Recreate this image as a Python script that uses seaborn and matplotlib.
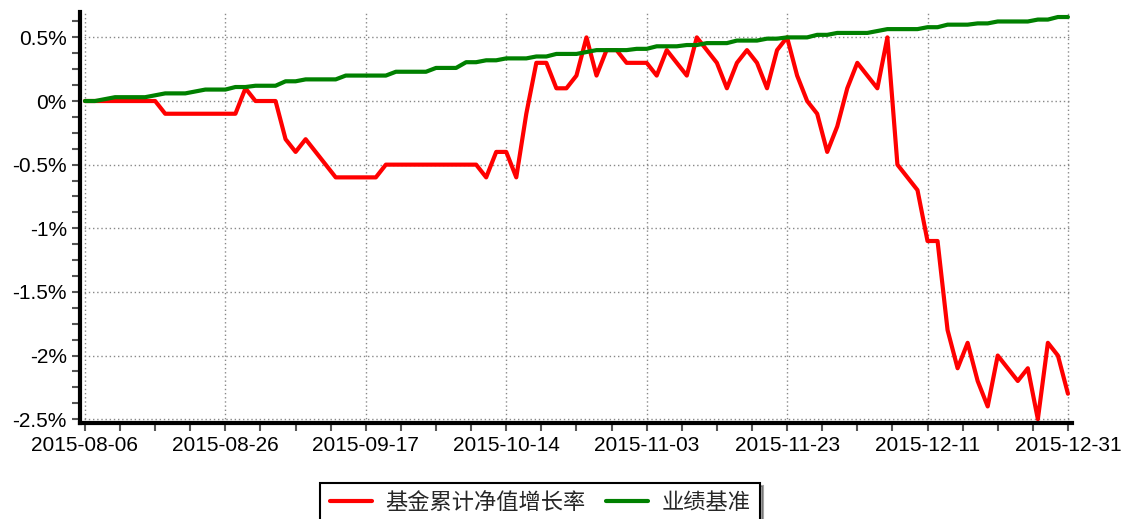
import numpy as np
import pandas as pd
import matplotlib
matplotlib.use("Agg")
import matplotlib.pyplot as plt
from matplotlib.ticker import MultipleLocator, FuncFormatter
import seaborn as sns

# trading days (China, 2015-08-06 .. 2015-12-31, holidays removed)
holidays = ["2015-09-03", "2015-09-04", "2015-10-01", "2015-10-02",
            "2015-10-05", "2015-10-06", "2015-10-07"]
dates = pd.bdate_range("2015-08-06", "2015-12-31")
dates = dates[~dates.isin(pd.to_datetime(holidays))]
date_labels = [d.strftime("%Y-%m-%d") for d in dates]

# fund cumulative return (%)
fund = [0, 0, 0, 0, 0, 0, 0, 0,
        -0.1, -0.1, -0.1, -0.1, -0.1, -0.1, -0.1, -0.1,
        0.1, 0, 0, 0,
        -0.3, -0.4, -0.3, -0.4, -0.5,
        -0.6, -0.6, -0.6, -0.6, -0.6,
        -0.5, -0.5, -0.5, -0.5, -0.5, -0.5, -0.5, -0.5, -0.5, -0.5,
        -0.6, -0.4, -0.4, -0.6, -0.1, 0.3, 0.3, 0.1, 0.1, 0.2,
        0.5, 0.2, 0.4, 0.4, 0.3, 0.3, 0.3, 0.2, 0.4, 0.3,
        0.2, 0.5, 0.4, 0.3, 0.1, 0.3, 0.4, 0.3, 0.1, 0.4,
        0.5, 0.2, 0.0, -0.1, -0.4, -0.2, 0.1, 0.3, 0.2, 0.1,
        0.5, -0.5, -0.6, -0.7, -1.1, -1.1, -1.8, -2.1, -1.9, -2.2,
        -2.4, -2.0, -2.1, -2.2, -2.1, -2.5, -1.9, -2.0, -2.3]

# benchmark return (%)
bench = [0, 0, 0.015, 0.03, 0.03, 0.03, 0.03, 0.045, 0.06, 0.06,
         0.06, 0.075, 0.09, 0.09, 0.09, 0.11, 0.11, 0.12, 0.12, 0.12,
         0.155, 0.155, 0.17, 0.17, 0.17, 0.17, 0.2, 0.2, 0.2, 0.2,
         0.2, 0.23, 0.23, 0.23, 0.23, 0.26, 0.26, 0.26, 0.305, 0.305,
         0.32, 0.32, 0.335, 0.335, 0.335, 0.35, 0.35, 0.37, 0.37, 0.37,
         0.385, 0.40, 0.40, 0.40, 0.40, 0.41, 0.41, 0.43, 0.43, 0.43,
         0.44, 0.44, 0.455, 0.455, 0.455, 0.475, 0.475, 0.475, 0.49, 0.49,
         0.50, 0.50, 0.50, 0.52, 0.52, 0.535, 0.535, 0.535, 0.535, 0.55,
         0.565, 0.565, 0.565, 0.565, 0.58, 0.58, 0.60, 0.60, 0.60, 0.61,
         0.61, 0.625, 0.625, 0.625, 0.625, 0.64, 0.64, 0.66, 0.66]

labels = ["基金累计净值增长率", "业绩基准"]

df = pd.DataFrame({"day": np.arange(len(dates)),
                   labels[0]: fund, labels[1]: bench})
long = df.melt(id_vars="day", var_name="series", value_name="ret")

sns.set_style("ticks")
plt.rcParams["font.family"] = ["Liberation Sans", "Noto Sans CJK SC"]

fig = plt.figure(figsize=(11.26, 5.19), dpi=100)
ax = fig.add_axes([0.071, 0.185, 0.881, 0.792])

sns.lineplot(data=long, x="day", y="ret", hue="series",
             palette=["#ff0000", "#008000"], linewidth=3, ax=ax, legend=False)

ax.set_xlim(-0.5, 98.4)
ax.set_ylim(-2.53, 0.70)

ax.xaxis.set_major_locator(MultipleLocator(14))
ax.xaxis.set_minor_locator(MultipleLocator(3.5))
ax.xaxis.set_major_formatter(
    FuncFormatter(lambda v, p: date_labels[int(round(v))] if 0 <= round(v) < len(date_labels) else ""))
ax.yaxis.set_major_locator(MultipleLocator(0.5))
ax.yaxis.set_minor_locator(MultipleLocator(0.125))
ax.yaxis.set_major_formatter(FuncFormatter(lambda v, p: "%g%%" % round(v, 2)))

ax.set_xlabel("")
ax.set_ylabel("")
ax.tick_params(which="both", direction="out", length=6, width=1.5,
               colors="#555555", labelcolor="black", labelsize=15)
ax.grid(True, which="major", linestyle=(0, (1, 2)), color="#888888", linewidth=1)

for s in ["top", "right"]:
    ax.spines[s].set_visible(False)
for s in ["left", "bottom"]:
    ax.spines[s].set_linewidth(3)
    ax.spines[s].set_color("black")

handles = [plt.Line2D([], [], color="#ff0000", linewidth=3),
           plt.Line2D([], [], color="#008000", linewidth=3)]
leg = fig.legend(handles, labels, loc="upper left",
                 bbox_to_anchor=(320 / 1126, 1 - 483 / 519),
                 borderaxespad=0, ncol=2, fontsize=16, frameon=True,
                 fancybox=False, shadow=True, handlelength=1.9,
                 handletextpad=0.6, columnspacing=0.9, borderpad=0.45)
leg.get_frame().set_edgecolor("black")
leg.get_frame().set_linewidth(1.5)

fig.savefig("out.png", dpi=100)
